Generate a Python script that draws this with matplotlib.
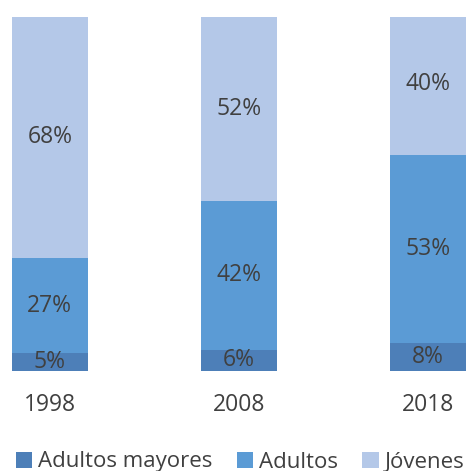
import matplotlib
matplotlib.use("Agg")
import matplotlib.pyplot as plt
import numpy as np

years = ["1998", "2008", "2018"]
series = ["Adultos mayores", "Adultos", "Jóvenes"]
adultos_mayores = [5, 6, 8]
adultos = [27, 42, 53]
jovenes = [68, 52, 40]
colors = ["#4d7fb8", "#5b9bd5", "#b4c8e8"]

plt.rcParams["font.family"] = ["Open Sans", "DejaVu Sans"]
text_color = "#404040"

fig = plt.figure(figsize=(4.75, 4.71), dpi=100)
ax = fig.add_axes([12 / 475, 100 / 471, 454 / 475, 354 / 471])

x = np.arange(len(years))
bottom = np.zeros(len(years))
handles = []
for name, vals, col in zip(series, [adultos_mayores, adultos, jovenes], colors):
    vals = np.array(vals, dtype=float)
    b = ax.bar(x, vals, 0.4, bottom=bottom, color=col, label=name)
    handles.append(b)
    for xi, v, bt in zip(x, vals, bottom):
        ax.text(xi, bt + v / 2, f"{int(v)}%", ha="center", va="center",
                fontsize=16.5, color=text_color)
    bottom += vals

ax.set_xlim(-0.2, 2.2)
ax.set_ylim(0, 100)
ax.set_xticks(x)
ax.set_xticklabels(years, fontsize=16.5, color=text_color)
ax.tick_params(axis="x", length=0, pad=16)
ax.set_yticks([])
for s in ax.spines.values():
    s.set_visible(False)

fig.legend(handles=handles, labels=series, loc="center",
           bbox_to_anchor=(0.505, 9 / 471), ncol=3, frameon=False,
           fontsize=16, labelcolor=text_color, handlelength=0.75,
           handleheight=0.75, handletextpad=0.25, columnspacing=1.1)

fig.savefig("out.png", dpi=100)
